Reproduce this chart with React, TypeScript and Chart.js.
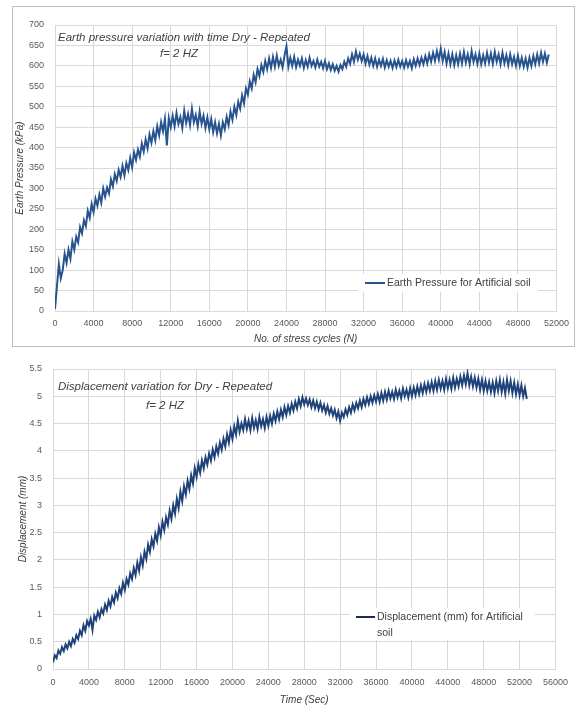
import React, { useEffect, useRef } from 'react';
import { Chart, registerables } from 'chart.js';

Chart.register(...registerables);

// ---------- DATA ----------
// Earth pressure (kPa) sampled every PRESSURE_STEP stress cycles, starting at N = 0
const PRESSURE_STEP = 200;
const pressureValues = [
  // 0 - 4000
  5, 60, 115, 80, 100, 140, 118, 150, 128, 170, 150, 182, 168, 205, 190, 222, 208, 245, 228, 262, 242,
  // 4200 - 8000
  275, 258, 285, 265, 300, 280, 302, 288, 322, 305, 335, 318, 345, 328, 355, 332, 362, 345, 375, 352,
  // 8200 - 12000
  388, 370, 395, 378, 410, 390, 420, 398, 432, 412, 440, 418, 452, 430, 462, 440, 470, 405, 472, 450,
  // 12200 - 16000
  478, 452, 485, 458, 475, 448, 490, 460, 482, 455, 495, 462, 480, 452, 488, 458, 478, 448, 474, 445,
  // 16200 - 20000
  470, 438, 462, 435, 458, 430, 462, 445, 475, 455, 488, 468, 500, 480, 512, 495, 528, 508, 545, 530,
  // 20200 - 24000
  562, 545, 578, 560, 592, 575, 602, 585, 612, 592, 618, 595, 622, 598, 625, 600, 615, 596, 625, 648,
  // 24200 - 28000
  598, 620, 600, 622, 597, 615, 600, 618, 595, 614, 598, 620, 600, 612, 596, 615, 598, 610, 594, 612,
  // 28200 - 32000
  592, 606, 590, 604, 588, 600, 586, 602, 592, 610, 598, 618, 605, 628, 610, 635, 615, 630, 612, 628,
  // 32200 - 36000
  605, 624, 603, 620, 600, 618, 598, 615, 600, 617, 596, 614, 598, 612, 595, 613, 597, 615, 598, 612,
  // 36200 - 40000
  596, 614, 598, 612, 594, 616, 600, 618, 602, 620, 604, 624, 606, 628, 610, 632, 612, 636, 615, 642,
  // 40200 - 44000
  612, 634, 606, 630, 604, 628, 602, 626, 604, 630, 606, 634, 608, 628, 604, 636, 610, 628, 605, 630,
  // 44200 - 48000
  604, 626, 606, 632, 608, 630, 605, 634, 610, 628, 604, 632, 606, 626, 602, 628, 604, 622, 600, 625,
  // 48200 - 51200
  600, 620, 598, 618, 596, 620, 600, 624, 604, 628, 606, 632, 610, 630, 608, 628,
];

// Displacement (mm) sampled every DISP_STEP seconds, starting at t = 0
const DISP_STEP = 200;
const displacementValues = [
  // 0 - 4000
  0.12, 0.25, 0.2, 0.34, 0.28, 0.4, 0.33, 0.45, 0.38, 0.5, 0.42, 0.55, 0.48, 0.62, 0.55, 0.7, 0.62, 0.8, 0.7, 0.88, 0.8,
  // 4200 - 8000
  0.92, 0.72, 0.98, 0.9, 1.05, 0.95, 1.1, 1.02, 1.18, 1.08, 1.25, 1.15, 1.32, 1.22, 1.4, 1.3, 1.48, 1.38, 1.58, 1.45,
  // 8200 - 12000
  1.65, 1.55, 1.75, 1.65, 1.85, 1.72, 1.95, 1.8, 2.05, 1.9, 2.15, 2.02, 2.28, 2.15, 2.38, 2.25, 2.48, 2.35, 2.6, 2.45,
  // 12200 - 16000
  2.7, 2.55, 2.78, 2.65, 2.9, 2.75, 3.0, 2.85, 3.12, 2.95, 3.25, 3.08, 3.35, 3.2, 3.45, 3.3, 3.55, 3.4, 3.68, 3.52,
  // 16200 - 20000
  3.75, 3.6, 3.82, 3.68, 3.88, 3.75, 3.95, 3.82, 4.02, 3.88, 4.08, 3.95, 4.15, 4.02, 4.22, 4.08, 4.3, 4.15, 4.38, 4.22,
  // 20200 - 24000
  4.45, 4.3, 4.55, 4.35, 4.5, 4.38, 4.58, 4.4, 4.55, 4.38, 4.6, 4.42, 4.56, 4.4, 4.62, 4.45, 4.58, 4.42, 4.62, 4.46,
  // 24200 - 28000
  4.64, 4.5, 4.68, 4.55, 4.72, 4.58, 4.75, 4.62, 4.8, 4.66, 4.82, 4.7, 4.86, 4.74, 4.9, 4.78, 4.95, 4.82, 4.98, 4.85,
  // 28200 - 32000
  4.96, 4.84, 4.94, 4.8, 4.92, 4.78, 4.9, 4.76, 4.88, 4.74, 4.84, 4.7, 4.82, 4.68, 4.78, 4.65, 4.75, 4.6, 4.72, 4.55,
  // 32200 - 36000
  4.7, 4.62, 4.76, 4.66, 4.8, 4.7, 4.85, 4.74, 4.88, 4.78, 4.92, 4.8, 4.95, 4.84, 4.98, 4.86, 5.0, 4.88, 5.02, 4.9,
  // 36200 - 40000
  5.04, 4.9, 5.06, 4.92, 5.08, 4.94, 5.1, 4.96, 5.08, 4.95, 5.12, 4.98, 5.1, 4.96, 5.14, 5.0, 5.12, 4.98, 5.15, 5.0,
  // 40200 - 44000
  5.16, 5.02, 5.18, 5.04, 5.2, 5.06, 5.22, 5.08, 5.24, 5.1, 5.26, 5.1, 5.28, 5.12, 5.3, 5.14, 5.28, 5.12, 5.32, 5.15,
  // 44200 - 48000
  5.3, 5.14, 5.34, 5.16, 5.32, 5.18, 5.36, 5.2, 5.38, 5.22, 5.42, 5.2, 5.36, 5.18, 5.34, 5.16, 5.32, 5.12, 5.3, 5.1,
  // 48200 - 52800
  5.28, 5.1, 5.26, 5.08, 5.25, 5.06, 5.28, 5.1, 5.3, 5.08, 5.26, 5.05, 5.3, 5.1, 5.28, 5.06, 5.25, 5.04, 5.22, 5.02, 5.2, 5.0, 5.15, 4.95,
];

const pressureAxis = { min: 0, max: 52000, step: 4000, yMin: 0, yMax: 700, yStep: 50 };
const dispAxis = { min: 0, max: 56000, step: 4000, yMin: 0, yMax: 5.5, yStep: 0.5 };

const FONT = "'Liberation Sans', Arial, sans-serif";
const GRID = '#d9d9d9';
const TICK = '#595959';
const TEXT = '#404040';

type Note = { text: string; x: number; y: number; align?: CanvasTextAlign; italic?: boolean; size?: number };
type Legend = { x1: number; x2: number; y: number; color: string; lines: string[]; box: [number, number, number, number]; size: number };

function overlayPlugin(notes: Note[], legend: Legend) {
  return {
    id: 'overlay',
    afterDraw(chart: any) {
      const ctx: CanvasRenderingContext2D = chart.ctx;
      ctx.save();
      // legend box
      ctx.fillStyle = '#ffffff';
      ctx.fillRect(legend.box[0], legend.box[1], legend.box[2], legend.box[3]);
      ctx.strokeStyle = legend.color;
      ctx.lineWidth = 2;
      ctx.beginPath();
      ctx.moveTo(legend.x1, legend.y);
      ctx.lineTo(legend.x2, legend.y);
      ctx.stroke();
      ctx.fillStyle = TEXT;
      ctx.font = `${legend.size}px ${FONT}`;
      ctx.textAlign = 'left';
      ctx.textBaseline = 'middle';
      legend.lines.forEach((l, i) => ctx.fillText(l, legend.x2 + 2, legend.y + i * 16));
      // titles
      notes.forEach((n) => {
        ctx.font = `${n.italic ? 'italic ' : ''}${n.size ?? 11.5}px ${FONT}`;
        ctx.textAlign = n.align ?? 'left';
        ctx.textBaseline = 'middle';
        ctx.fillStyle = TEXT;
        ctx.fillText(n.text, n.x, n.y);
      });
      ctx.restore();
    },
  };
}

function makeConfig(opts: {
  values: number[];
  step: number;
  color: string;
  label: string;
  axis: typeof pressureAxis;
  padding: { left: number; top: number; right: number; bottom: number };
  yWidth: number;
  xHeight: number;
  yTitle: string;
  yTitlePad: number;
  xTitle: string;
  xTickPad: number;
  xTitlePad: number;
  notes: Note[];
  legend: Legend;
}): any {
  const data = opts.values.map((v, i) => ({ x: i * opts.step, y: v }));
  return {
    type: 'line',
    data: {
      datasets: [
        {
          label: opts.label,
          data,
          borderColor: opts.color,
          borderWidth: 2,
          pointRadius: 0,
          tension: 0,
          fill: false,
        },
      ],
    },
    options: {
      responsive: false,
      animation: false,
      layout: { padding: opts.padding },
      plugins: { legend: { display: false }, title: { display: false }, tooltip: { enabled: false } },
      scales: {
        x: {
          type: 'linear',
          min: opts.axis.min,
          max: opts.axis.max,
          afterFit: (s: any) => { s.height = opts.xHeight; },
          ticks: {
            stepSize: opts.axis.step,
            autoSkip: false,
            maxRotation: 0,
            padding: opts.xTickPad,
            color: TICK,
            font: { family: FONT, size: 9 },
            callback: (v: any) => String(v),
          },
          grid: { color: GRID, drawTicks: false },
          border: { color: GRID },
          title: {
            display: true,
            text: opts.xTitle,
            color: TEXT,
            font: { family: FONT, size: 10, style: 'italic' },
            padding: { top: 0, bottom: opts.xTitlePad },
          },
        },
        y: {
          type: 'linear',
          min: opts.axis.yMin,
          max: opts.axis.yMax,
          afterFit: (s: any) => { s.width = opts.yWidth; },
          ticks: {
            stepSize: opts.axis.yStep,
            padding: 11,
            color: TICK,
            font: { family: FONT, size: 9 },
            callback: (v: any) => String(v),
          },
          grid: { color: GRID, drawTicks: false },
          border: { color: GRID },
          title: {
            display: true,
            text: opts.yTitle,
            color: TEXT,
            font: { family: FONT, size: 10, style: 'italic' },
            padding: { top: opts.yTitlePad, bottom: 0 },
          },
        },
      },
    },
    plugins: [overlayPlugin(opts.notes, opts.legend)],
  };
}

function ChartCanvas({ config, width, height, style }: { config: any; width: number; height: number; style: React.CSSProperties }) {
  const ref = useRef<HTMLCanvasElement | null>(null);
  useEffect(() => {
    if (!ref.current) return;
    const chart = new Chart(ref.current, config);
    return () => chart.destroy();
  }, [config]);
  return <canvas ref={ref} width={width} height={height} style={{ position: 'absolute', width, height, ...style }} />;
}

const topConfig = makeConfig({
  values: pressureValues,
  step: PRESSURE_STEP,
  color: '#27548f',
  label: 'Earth Pressure for Artificial soil',
  axis: pressureAxis,
  padding: { left: 12, top: 25, right: 16, bottom: 1 },
  yWidth: 43,
  xHeight: 34,
  yTitle: 'Earth Pressure (kPa)',
  yTitlePad: 2,
  xTitle: 'No. of stress cycles (N)',
  xTickPad: 7,
  xTitlePad: 0,
  notes: [
    { text: 'Earth pressure variation with time Dry - Repeated', x: 58, y: 38, italic: true },
    { text: 'f= 2 HZ', x: 179, y: 54, align: 'center', italic: true },
  ],
  legend: { x1: 365, x2: 385, y: 283, color: '#27548f', lines: ['Earth Pressure for Artificial soil'], box: [358, 274, 180, 18], size: 10.5 },
});

const bottomConfig = makeConfig({
  values: displacementValues,
  step: DISP_STEP,
  color: '#1f4278',
  label: 'Displacement (mm) for Artificial soil',
  axis: dispAxis,
  padding: { left: 12, top: 23, right: 18, bottom: 0 },
  yWidth: 41,
  xHeight: 37,
  yTitle: 'Displacement (mm)',
  yTitlePad: 5,
  xTitle: 'Time (Sec)',
  xTickPad: 8,
  xTitlePad: 0,
  notes: [
    { text: 'Displacement variation for Dry - Repeated', x: 58, y: 41, italic: true },
    { text: 'f= 2 HZ', x: 165, y: 60, align: 'center', italic: true },
  ],
  legend: { x1: 356, x2: 375, y: 271, color: '#1f2a5c', lines: ['Displacement (mm) for Artificial', 'soil'], box: [350, 262, 185, 32], size: 10.5 },
});

export default function App() {
  return (
    <div style={{ position: 'fixed', left: 0, top: 0, width: 576, height: 706, background: '#ffffff' }}>
      <ChartCanvas config={topConfig} width={576} height={346} style={{ left: 0, top: 0 }} />
      <div
        style={{
          position: 'absolute',
          left: 12,
          top: 6,
          width: 563,
          height: 341,
          border: '1px solid #bfbfbf',
          boxSizing: 'border-box',
          pointerEvents: 'none',
        }}
      />
      <ChartCanvas config={bottomConfig} width={576} height={360} style={{ left: 0, top: 346 }} />
    </div>
  );
}
